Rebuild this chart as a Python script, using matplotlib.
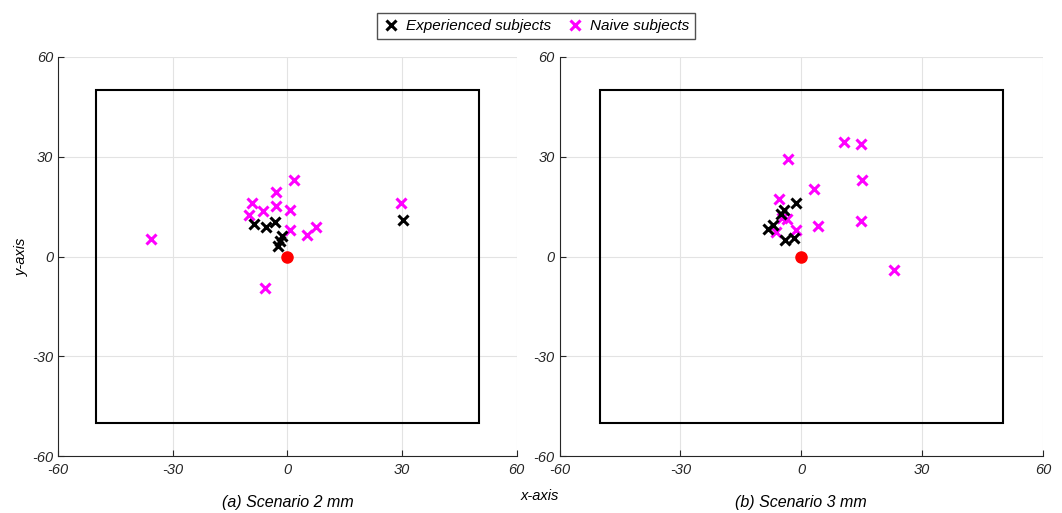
import matplotlib.pyplot as plt
from matplotlib import rcParams
from matplotlib.patches import Rectangle
from matplotlib.lines import Line2D

rcParams['font.family'] = 'sans-serif'
rcParams['font.sans-serif'] = ['Liberation Sans']
rcParams['font.size'] = 10

# scenario 2 mm
exp2_x = [-8.7, -5.7, -3.3, -1.3, -1.8, -2.4, 30.2]
exp2_y = [9.8, 9.0, 10.3, 6.3, 4.8, 3.3, 11.0]
naive2_x = [1.7, -3.0, -9.2, -2.9, -6.5, -10.0, 0.7, 0.6, 7.6, 5.2, -5.9, -35.8, 29.6]
naive2_y = [23.0, 19.5, 16.0, 15.3, 13.6, 12.5, 14.0, 8.1, 8.8, 6.6, -9.5, 5.2, 16.1]

# scenario 3 mm
exp3_x = [-1.4, -4.4, -5.0, -7.1, -8.3, -4.0, -1.7]
exp3_y = [16.1, 14.0, 12.8, 9.5, 8.2, 5.0, 5.5]
naive3_x = [10.6, 14.8, -3.3, 15.2, 3.1, -5.6, 14.9, 4.2, -3.6, -4.8, -1.2, -6.2, 23.1]
naive3_y = [34.4, 33.7, 29.4, 23.1, 20.4, 17.2, 10.8, 9.1, 11.3, 11.6, 8.0, 7.5, -4.2]

ticks = [-60, -30, 0, 30, 60]
half_side = 50

fig = plt.figure(figsize=(10.62, 5.13), dpi=100)
ax1 = fig.add_axes([0.0546, 0.111, 0.432, 0.778])
ax2 = fig.add_axes([0.527, 0.111, 0.455, 0.778])

panels = [
    (ax1, exp2_x, exp2_y, naive2_x, naive2_y, '(a) Scenario 2 mm'),
    (ax2, exp3_x, exp3_y, naive3_x, naive3_y, '(b) Scenario 3 mm'),
]

for ax, ex, ey, nx, ny, title in panels:
    ax.set_xlim(-60, 60)
    ax.set_ylim(-60, 60)
    ax.set_xticks(ticks)
    ax.set_yticks(ticks)
    ax.set_xticklabels([str(t) for t in ticks], fontstyle='italic')
    ax.set_yticklabels([str(t) for t in ticks], fontstyle='italic')
    ax.tick_params(direction='in', length=4, width=0.8, colors='#262626', labelsize=10.5)
    ax.tick_params(axis='x', pad=5)
    ax.grid(True, color='#e3e3e3', linewidth=0.8)
    ax.set_axisbelow(True)
    ax.spines['top'].set_visible(False)
    ax.spines['right'].set_visible(False)
    ax.spines['left'].set_color('#262626')
    ax.spines['bottom'].set_color('#262626')
    ax.add_patch(Rectangle((-half_side, -half_side), 2 * half_side, 2 * half_side,
                           fill=False, edgecolor='black', linewidth=1.5, zorder=2))
    ax.plot(nx, ny, 'x', color='#ff00ff', markersize=7, markeredgewidth=2.2, zorder=3)
    ax.plot(ex, ey, 'x', color='black', markersize=7, markeredgewidth=2.2, zorder=4)
    ax.plot([0], [0], 'o', color='red', markersize=8, zorder=5)
    ax.set_xlabel(title, fontstyle='italic', fontsize=11.5, labelpad=13)

ax1.set_ylabel('y-axis', fontstyle='italic', fontsize=10.5, labelpad=2)
fig.text(0.508, 0.025, 'x-axis', fontstyle='italic', fontsize=10.5, ha='center')

handles = [
    Line2D([], [], linestyle='none', marker='x', color='black', markersize=7, markeredgewidth=2.2),
    Line2D([], [], linestyle='none', marker='x', color='#ff00ff', markersize=7, markeredgewidth=2.2),
]
fig.legend(handles, ['Experienced subjects', 'Naive subjects'], loc='upper center',
           bbox_to_anchor=(0.505, 0.99), ncol=2, fancybox=False, edgecolor='#262626',
           prop={'style': 'italic', 'size': 11}, handlelength=1.0, handletextpad=0.5,
           columnspacing=1.0, borderpad=0.4)

plt.savefig('out.png', dpi=100)
